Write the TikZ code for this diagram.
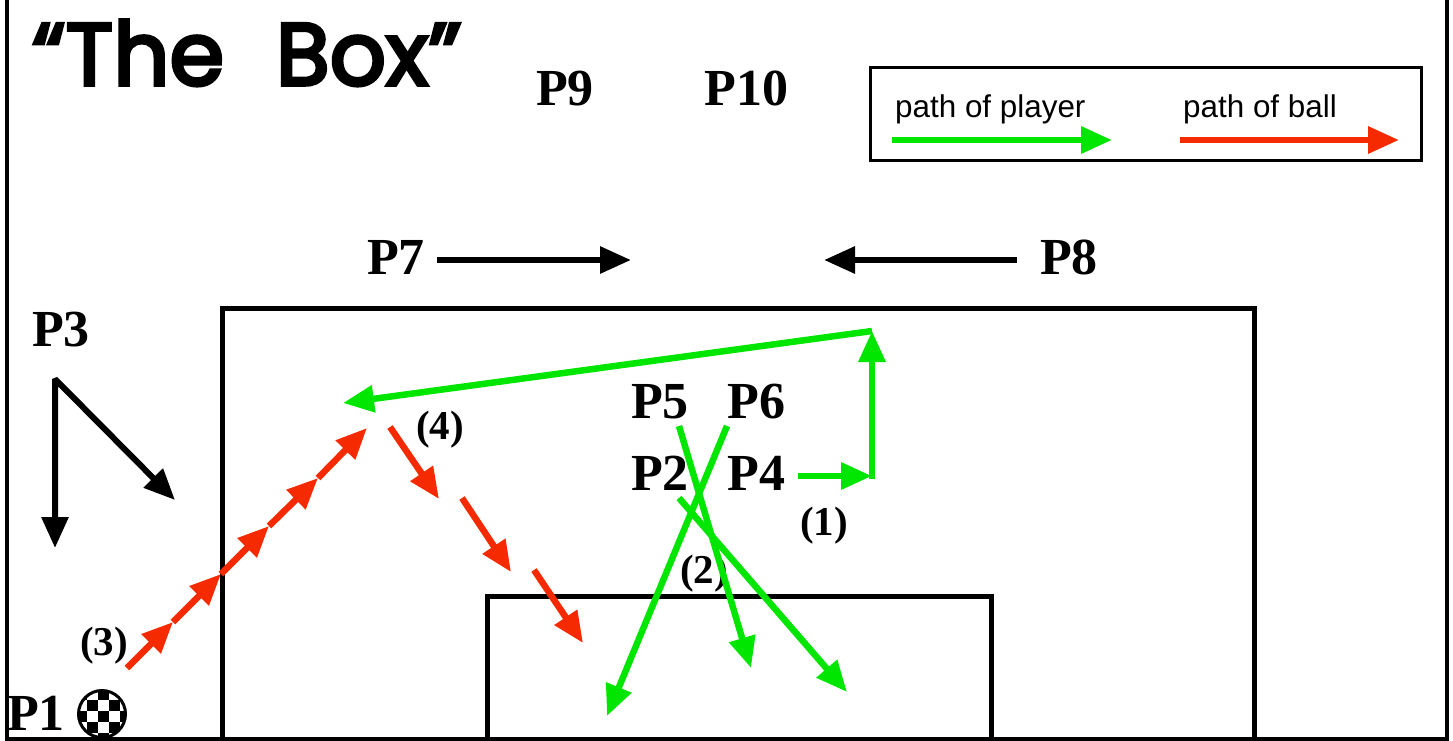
\documentclass[tikz,border=0pt]{standalone}
\usepackage{fontspec}
\setmainfont{Liberation Serif}
\setsansfont{Liberation Sans}
\newfontfamily\titlefont[FakeBold=4,WordSpace=2.2]{Poppins}
\usetikzlibrary{arrows.meta,positioning}
\definecolor{playergreen}{RGB}{0,230,0}
\definecolor{ballred}{RGB}{245,42,0}
\tikzset{
    playerlabel/.style={font=\fontsize{52}{52}\selectfont\bfseries, anchor=base west, inner sep=0pt},
    steplabel/.style={font=\fontsize{41}{41}\selectfont\bfseries, anchor=base west, inner sep=0pt},
    legendlabel/.style={font=\fontsize{31.4}{32}\selectfont\sffamily, anchor=base west, inner sep=0pt},
    bighead/.style={-{Triangle[length=31pt,width=26pt]}},
    moveblack/.style={draw=black, line width=6pt, bighead},
    playerpath/.style={draw=playergreen, line width=6.5pt, bighead},
    ballpath/.style={draw=ballred, line width=6.5pt, bighead},
    fieldline/.style={draw=black, line width=5pt}
}
\begin{document}
\begin{tikzpicture}[x=1pt,y=-1pt]
    \useasboundingbox (0,0) rectangle (1453,740);
    % field
    \coordinate (ftl) at (7,-5);
    \coordinate (fbl) at (7,739);
    \coordinate (fbr) at (1447,739);
    \coordinate (ftr) at (1447,-5);
    \draw[fieldline, line width=4.5pt] (ftl) -- (fbl) -- (fbr) -- (ftr);
    \coordinate (bigl) at (222.5,739);
    \coordinate (bigtl) at (222.5,308);
    \coordinate (bigtr) at (1254.5,308);
    \coordinate (bigr) at (1254.5,739);
    \draw[fieldline] (bigl) -- (bigtl) -- (bigtr) -- (bigr);
    \coordinate (smalll) at (487.5,739);
    \coordinate (smalltl) at (487.5,596);
    \coordinate (smalltr) at (991.5,596);
    \coordinate (smallr) at (991.5,739);
    \draw[fieldline] (smalll) -- (smalltl) -- (smalltr) -- (smallr);

    % title and labels
    \node[anchor=base west, inner sep=0pt, font=\titlefont\fontsize{88}{88}\selectfont] (title) at (32,85) {“The Box”};
    \node[playerlabel] (p9) at (536,105) {P9};
    \node[playerlabel, base right=110pt of p9] (p10) {P10};
    \node[playerlabel] (p7) at (367,274) {P7};
    \node[playerlabel] (p8) at (1040,274) {P8};
    \node[playerlabel] (p3) at (32,346) {P3};
    \node[playerlabel] (p5) at (631,418) {P5};
    \node[playerlabel, base right=38pt of p5] (p6) {P6};
    \node[playerlabel] (p2) at (631,490) {P2};
    \node[playerlabel, base right=38pt of p2] (p4) {P4};
    \node[playerlabel] (p1) at (7,730) {P1};
    \node[steplabel] (s1) at (800,535) {(1)};
    \node[steplabel] (s2) at (680,583) {(2)};
    \node[steplabel] (s3) at (80,655) {(3)};
    \node[steplabel] (s4) at (416,439) {(4)};

    % ball
    \node[circle, draw=black, line width=3pt, minimum size=47pt, inner sep=0pt,
        path picture={
            \foreach \i in {-2,...,2} \foreach \j in {-2,...,2} {
                \ifodd\numexpr\i+\j\relax\else
                    \fill[shift={(path picture bounding box.center)}] ({\i*11-4},{\j*11-3}) rectangle +(11,11);
                \fi
            }
        }] (ball) at (102,714) {};

    % black moves
    \coordinate (p7to) at (631,260);
    \coordinate (p8to) at (824,260);
    \draw[moveblack, shorten <=12pt] (p7.east |- p7to) -- (p7to);
    \draw[moveblack, shorten <=23pt] (p8.west |- p8to) -- (p8to);
    \coordinate (p3a) at (55,548);
    \coordinate (p3b) at (55,379);
    \coordinate (p3c) at (175,500);
    \draw[moveblack, {Triangle[length=31pt,width=26pt]}-{Triangle[length=31pt,width=26pt]}, line join=bevel] (p3a) -- (p3b) -- (p3c);

    % green moves
    \coordinate (g1) at (872,476);
    \coordinate (g2) at (872,331);
    \coordinate (g3) at (343,403);
    \draw[playerpath, shorten <=13pt] (p4.east |- g1) -- (g1);
    \draw[playerpath] ([yshift=-3pt]g1) -- (g2);
    \draw[playerpath] (g2) -- (g3);
    \coordinate (p5from) at (679,426);
    \coordinate (p5to) at (751,668);
    \coordinate (p6from) at (727,426);
    \coordinate (p6to) at (607,716);
    \coordinate (p2from) at (679,498);
    \coordinate (p2to) at (847,692);
    \foreach \a/\b in {p5from/p5to, p6from/p6to, p2from/p2to}
        \draw[playerpath] (\a) -- (\b);

    % red passes
    \coordinate (r0) at (127,668);
    \coordinate (r1) at (173,622);
    \coordinate (r2) at (221,574);
    \coordinate (r3) at (269,526);
    \coordinate (r4) at (318,478);
    \coordinate (r5) at (367,428);
    \foreach \a/\b in {r0/r1, r1/r2, r2/r3, r3/r4, r4/r5}
        \draw[ballpath] (\a) -- (\b);
    \coordinate (t0) at (390,427);
    \coordinate (t1) at (439,499);
    \coordinate (t2) at (462,498);
    \coordinate (t3) at (511,572);
    \coordinate (t4) at (534,570);
    \coordinate (t5) at (583,643);
    \foreach \a/\b in {t0/t1, t2/t3, t4/t5}
        \draw[ballpath] (\a) -- (\b);

    % legend
    \node[draw=black, line width=3pt, fill=white, minimum width=551pt, minimum height=93pt, inner sep=0pt, anchor=north west] (legend) at (868.5,66) {};
    \node[legendlabel] (lplayer) at (895,117) {path of player};
    \node[legendlabel] (lball) at (1183,117) {path of ball};
    \coordinate (lg0) at (892,140);
    \coordinate (lg1) at (1112,140);
    \coordinate (lr0) at (1180,140);
    \coordinate (lr1) at (1399,140);
    \draw[playerpath] (lg0) -- (lg1);
    \draw[ballpath] (lr0) -- (lr1);
\end{tikzpicture}
\end{document}
